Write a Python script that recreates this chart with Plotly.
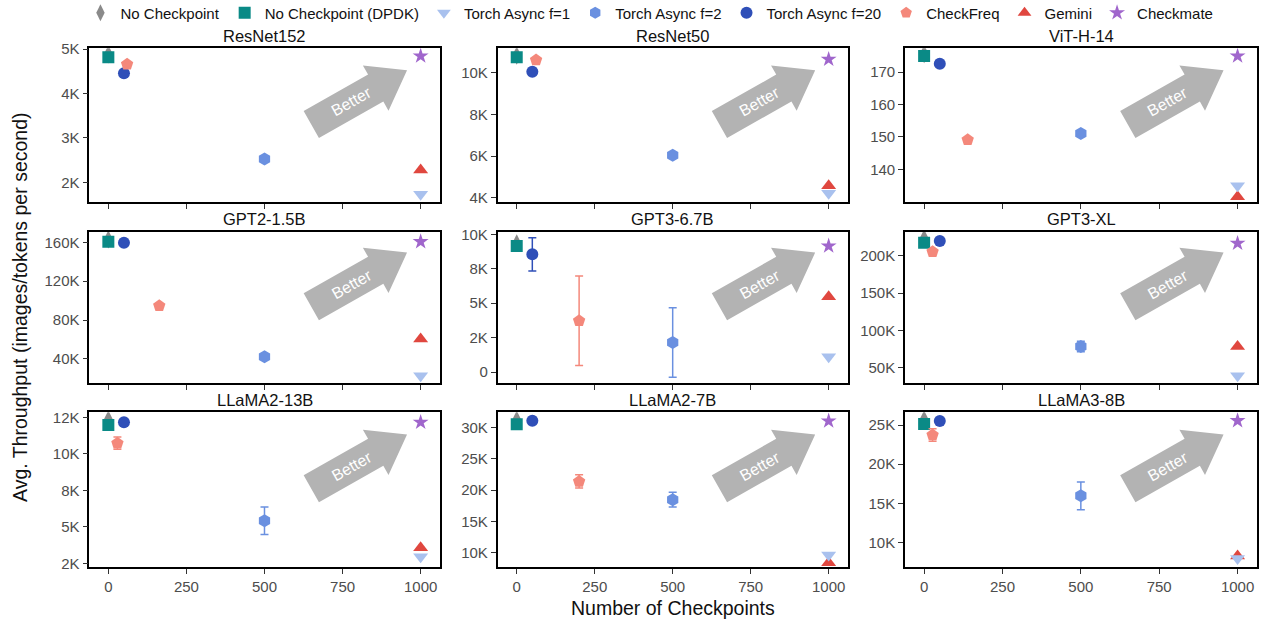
import math
import plotly.graph_objects as go

# ---------------- data ----------------
models = ["ResNet152", "ResNet50", "ViT-H-14",
          "GPT2-1.5B", "GPT3-6.7B", "GPT3-XL",
          "LLaMA2-13B", "LLaMA2-7B", "LLaMA3-8B"]

methods = ["No Checkpoint", "No Checkpoint (DPDK)", "Torch Async f=1",
           "Torch Async f=2", "Torch Async f=20", "CheckFreq", "Gemini", "Checkmate"]

# number of checkpoints per method
ckpts_no_checkpoint = [0, 0, 0, 0, 0, 0, 0, 0, 0]
ckpts_dpdk = [0, 0, 0, 0, 0, 0, 0, 0, 0]
ckpts_async1 = [1000, 1000, 1000, 1000, 1000, 1000, 1000, 1000, 1000]
ckpts_async2 = [500, 500, 500, 500, 500, 500, 500, 500, 500]
ckpts_async20 = [50, 50, 50, 50, 50, 50, 50, 50, 50]
ckpts_checkfreq = [60, 62, 139, 163, 200, 27, 29, 200, 27]
ckpts_gemini = [1000, 1000, 1000, 1000, 1000, 1000, 1000, 1000, 1000]
ckpts_checkmate = [1000, 1000, 1000, 1000, 1000, 1000, 1000, 1000, 1000]

# throughput per method (one value per model)
thr_no_checkpoint = [4880, 10820, 175.6, 163000, 9350, 223000, 12350, 31200, 25700]
thr_dpdk = [4813, 10739, 175.0, 160600, 9150, 217400, 11973, 30480, 25130]
thr_async1 = [1730, 4211, 134.9, 22800, 1112, 39700, 2952, 9630, 7990]
thr_async2 = [2525, 6034, 151.1, 42400, 2137, 78600, 5411, 18460, 15970]
thr_async20 = [4453, 10048, 172.6, 159600, 8547, 219700, 12158, 31050, 25510]
thr_checkfreq = [4655, 10610, 149.1, 94700, 3714, 205300, 10726, 21370, 23720]
thr_gemini = [2277, 4576, 131.5, 60500, 5465, 78600, 3568, 8400, 8300]
thr_checkmate = [4842, 10643, 175.0, 160600, 9150, 216600, 12158, 31000, 25550]

# error bars (std) where visible
err_async2 = [0, 0, 0, 0, 2525, 7000, 945, 1170, 1760]
err_async20 = [0, 0, 0, 0, 1210, 0, 0, 0, 0]
err_checkfreq = [0, 0, 0, 0, 3250, 0, 420, 1070, 800]

# axis ticks
x_tickvals = [0, 250, 500, 750, 1000]
x_ticktext = ["0", "250", "500", "750", "1000"]
y_tickvals = [
    [2000, 3000, 4000, 5000],
    [4000, 6000, 8000, 10000],
    [140, 150, 160, 170],
    [40000, 80000, 120000, 160000],
    [0, 2500, 5000, 7500, 10000],
    [50000, 100000, 150000, 200000],
    [2500, 5000, 7500, 10000, 12500],
    [10000, 15000, 20000, 25000, 30000],
    [10000, 15000, 20000, 25000],
]
y_ticktext = [
    ["2K", "3K", "4K", "5K"],
    ["4K", "6K", "8K", "10K"],
    ["140", "150", "160", "170"],
    ["40K", "80K", "120K", "160K"],
    ["0", "2K", "5K", "8K", "10K"],
    ["50K", "100K", "150K", "200K"],
    ["2K", "5K", "8K", "10K", "12K"],
    ["10K", "15K", "20K", "25K", "30K"],
    ["10K", "15K", "20K", "25K"],
]
y_ranges = [
    [1550, 5016], [3779, 11171], [129.8, 177.4],
    [15000, 170900], [-821, 10189], [29500, 232100],
    [2267, 12842], [7770, 32390], [6940, 26620],
]
x_range = [-61, 1062]

# ---------------- styling ----------------
W, H = 1267, 623
FONT = "Liberation Sans, Arial, Helvetica, sans-serif"

series = [
    # name, x, y, err, symbol, color, size, legendrank
    ("No Checkpoint", ckpts_no_checkpoint, thr_no_checkpoint, None, "diamond-tall", "#8a8a8a", 13, 1),
    ("No Checkpoint (DPDK)", ckpts_dpdk, thr_dpdk, None, "square", "#0a8a86", 12, 2),
    ("Torch Async f=2", ckpts_async2, thr_async2, err_async2, "hexagon", "#6a90e0", 13, 4),
    ("Torch Async f=20", ckpts_async20, thr_async20, err_async20, "circle", "#2f4fb8", 12, 5),
    ("CheckFreq", ckpts_checkfreq, thr_checkfreq, err_checkfreq, "pentagon", "#f4887b", 13, 6),
    ("Gemini", ckpts_gemini, thr_gemini, None, "triangle-up", "#e0473f", 13, 7),
    ("Torch Async f=1", ckpts_async1, thr_async1, None, "triangle-down", "#a9c1ee", 13, 3),
    ("Checkmate", ckpts_checkmate, thr_checkmate, None, "star", "#a066cc", 12, 8),
]

col_px = [(89.3, 440.0), (497.7, 848.0), (905.0, 1257.0)]
row_px = [(48.3, 202.3), (231.7, 383.3), (412.3, 566.7)]

fig = go.Figure()
layout = dict(
    width=W, height=H,
    margin=dict(l=0, r=0, t=0, b=0, autoexpand=False),
    paper_bgcolor="white", plot_bgcolor="white",
    font=dict(family=FONT, size=14, color="#222"),
    showlegend=True,
    legend=dict(orientation="h", x=0.0635, xanchor="left", y=1 - 13 / H, yanchor="middle",
                font=dict(size=15, color="#111", family=FONT),
                bgcolor="rgba(0,0,0,0)", itemsizing="constant", traceorder="normal"),
)
annotations = []
shapes = []

for i, model in enumerate(models):
    r, c = divmod(i, 3)
    n = "" if i == 0 else str(i + 1)
    x0p, x1p = col_px[c]
    y0p, y1p = row_px[r]
    xdom = [x0p / W, x1p / W]
    ydom = [1 - y1p / H, 1 - y0p / H]
    axstyle = dict(showline=True, linecolor="black", linewidth=1.6, mirror=True,
                   ticks="outside", ticklen=5, tickwidth=1, tickcolor="#333",
                   showgrid=False, zeroline=False,
                   tickfont=dict(size=15, color="#4d4d4d", family=FONT))
    layout["xaxis" + n] = dict(domain=xdom, anchor="y" + n, range=x_range,
                               tickvals=x_tickvals,
                               ticktext=x_ticktext if r == 2 else [""] * len(x_tickvals),
                               **axstyle)
    layout["yaxis" + n] = dict(domain=ydom, anchor="x" + n, range=y_ranges[i],
                               tickvals=y_tickvals[i], ticktext=y_ticktext[i], **axstyle)

    for (name, xs, ys, errs, sym, colr, sz, rank) in series:
        e = errs[i] if errs is not None else 0
        fig.add_trace(go.Scatter(
            x=[xs[i]], y=[ys[i]], mode="markers", name=name,
            xaxis="x" + n, yaxis="y" + n,
            legendgroup=name, showlegend=(i == 0), legendrank=rank,
            marker=dict(symbol=sym, color=colr, size=sz, line=dict(width=0)),
            error_y=dict(type="data", array=[e], visible=e > 0, color=colr,
                         thickness=1.5, width=4),
        ))

    # subplot title
    annotations.append(dict(text=model, x=(xdom[0] + xdom[1]) / 2, y=1 - (y0p - 12.5) / H,
                            xref="paper", yref="paper", showarrow=False,
                            xanchor="center", yanchor="middle",
                            font=dict(size=16.5, color="#111", family=FONT)))

    # "Better" arrow (decoration) in domain coordinates
    pw, ph = x1p - x0p, y1p - y0p
    ang = math.radians(29.5)
    d = (math.cos(ang), math.sin(ang))
    nrm = (-math.sin(ang), math.cos(ang))
    sx, sy = 0.633, 0.505
    pts_uv = [(0, -15.5), (74, -15.5), (74, -26), (110, 0), (74, 26), (74, 15.5), (0, 15.5)]
    path = ""
    for k, (u, v) in enumerate(pts_uv):
        px = u * d[0] + v * nrm[0]
        py = u * d[1] + v * nrm[1]
        path += ("M" if k == 0 else "L") + f"{sx + px / pw:.4f},{sy + py / ph:.4f} "
    path += "Z"
    shapes.append(dict(type="path", path=path, xref="x" + n + " domain", yref="y" + n + " domain",
                       fillcolor="#b3b3b3", line=dict(width=0), layer="below"))
    tu = 46
    annotations.append(dict(text="Better", x=sx + tu * d[0] / pw, y=sy + tu * d[1] / ph,
                            xref="x" + n + " domain", yref="y" + n + " domain",
                            showarrow=False, textangle=-29.5, xanchor="center", yanchor="middle",
                            font=dict(size=16, color="white", family=FONT)))

annotations.append(dict(text="Number of Checkpoints", x=(col_px[0][0] + col_px[2][1]) / 2 / W,
                        y=1 - 608 / H, xref="paper", yref="paper", showarrow=False,
                        xanchor="center", yanchor="middle",
                        font=dict(size=19.5, color="#111", family=FONT)))
annotations.append(dict(text="Avg. Throughput (images/tokens per second)", x=20 / W,
                        y=1 - 307 / H, xref="paper", yref="paper", showarrow=False,
                        textangle=-90, xanchor="center", yanchor="middle",
                        font=dict(size=19.5, color="#111", family=FONT)))

layout["annotations"] = annotations
layout["shapes"] = shapes
fig.update_layout(**layout)
fig.write_html("out.html", config={"displayModeBar": False},
               post_script="document.body.style.margin='0';document.body.style.overflow='hidden';")
